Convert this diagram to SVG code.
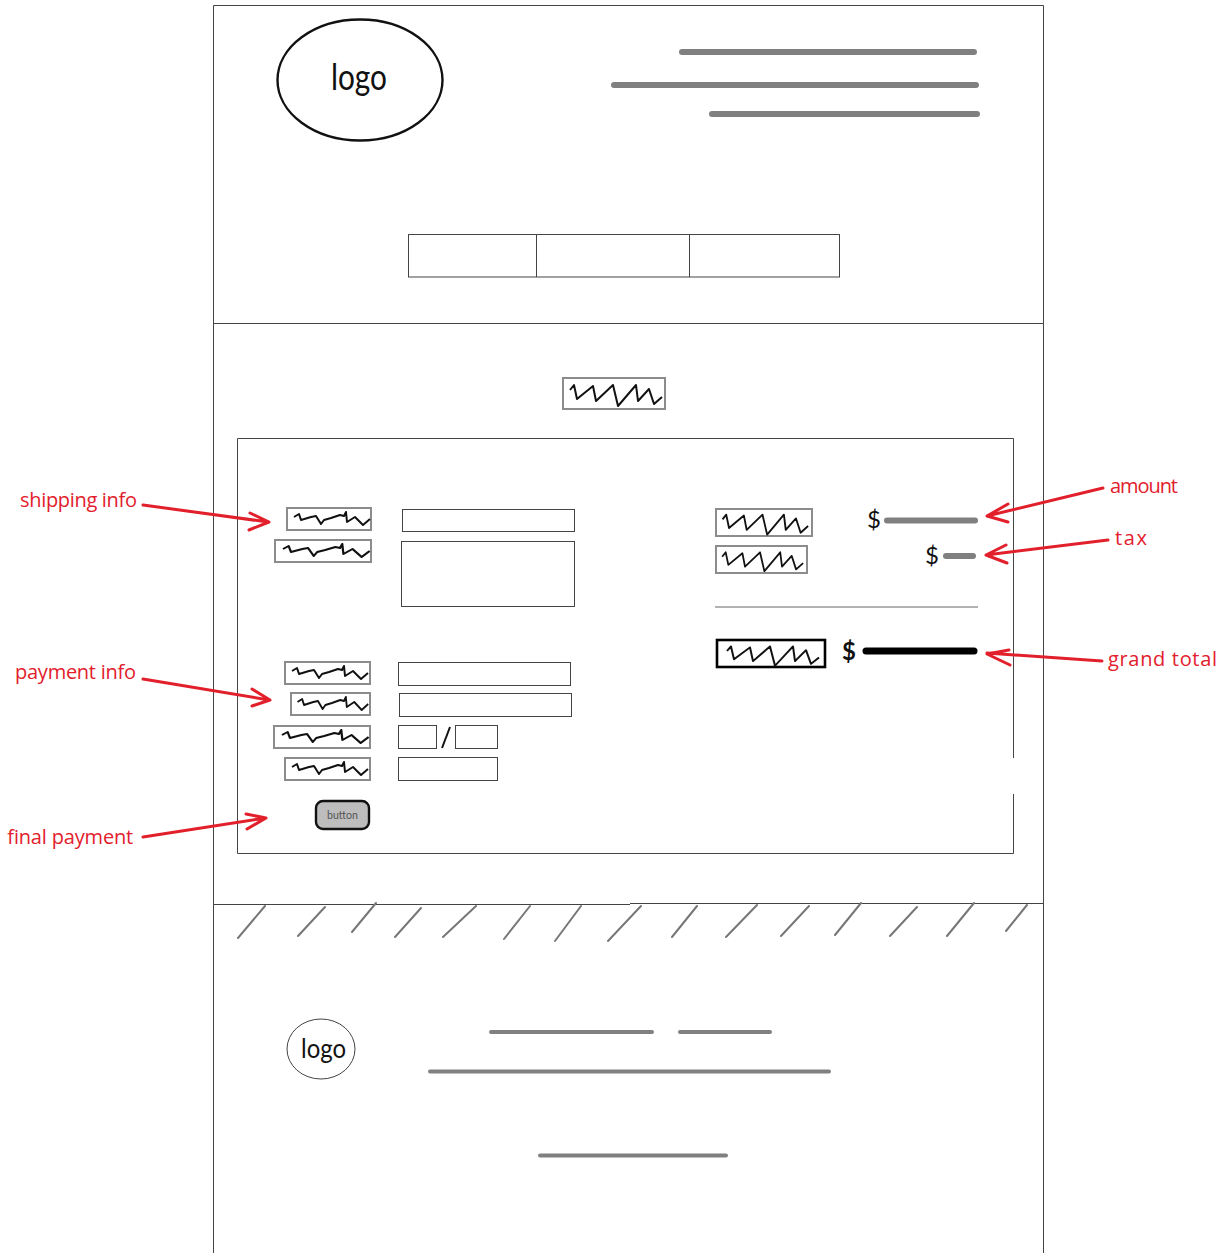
<svg xmlns="http://www.w3.org/2000/svg" width="1229" height="1253" viewBox="0 0 1229 1253">
<style>
.line{fill:none;stroke:#444;stroke-width:1}
.fld{fill:#fff;stroke:#444;stroke-width:1}
.lab{fill:#fff;stroke:#8c8c8c;stroke-width:2}
.bar{fill:none;stroke:#808080;stroke-linecap:round;stroke-width:6}
.thin{fill:none;stroke:#808080;stroke-linecap:round;stroke-width:4}
.hatch{fill:none;stroke:#777;stroke-linecap:round;stroke-width:2}
.sq{fill:none;stroke:#111;stroke-width:2;stroke-linejoin:round}
.arr{fill:none;stroke:#e2202c;stroke-width:3;stroke-linecap:round;stroke-linejoin:round}
.note{font-family:"Open Sans","DejaVu Sans",sans-serif;font-size:20px;fill:#e2202c}
.txt{font-family:Lato,"Open Sans",sans-serif;fill:#111}
</style>
<defs>
<path id="s1" d="M7 9L12 6L14 12L24 9L29 8L34 16L37 12L44 10L53 7L57 8L59 4L60 14L68 9L76 17L83 11"/>
<path id="s2" d="M7 12L11 7L14 21L30 8L33 23L50 7L55 28L73 7L75 23L86 11L91 26L99 19"/>
</defs>
<rect width="1229" height="1253" fill="#fff"/>
<g id="page">
<path class="line" d="M213.500 1253V5.500H1043.500V1253M213 323.500H1043M213 904.500H630M630 903.500H1043"/>
</g>
<g id="logo-top">
<ellipse cx="360" cy="80" rx="82.500" ry="60.500" fill="#fff" stroke="#111" stroke-width="2.400"/>
<text class="txt" x="331" y="90" font-size="36" textLength="56" lengthAdjust="spacingAndGlyphs">logo</text>
</g>
<g id="header-lines">
<path class="bar" d="M682 52H974M614 85H976M712 114H977"/>
</g>
<g id="nav-table">
<rect class="fld" x="408.500" y="234.500" width="431" height="42.500"/>
<path class="line" d="M536.500 235V277M689.500 235V277"/>
</g>
<g id="title">
<rect class="lab" x="563" y="378" width="102" height="31"/>
<use href="#s2" class="sq" x="563" y="378"/>
</g>
<g id="form-box">
<path class="line" d="M1013.500 758V438.500H237.500V853.500H1013.500V794"/>
</g>
<g id="shipping">
<rect class="lab" x="287" y="508" width="84" height="22"/><use href="#s1" class="sq" x="287" y="508"/>
<rect class="lab" x="275" y="540" width="96" height="22"/><use href="#s1" class="sq" transform="translate(275 540) scale(1.14 1)"/>
<rect class="fld" x="402.500" y="509.500" width="172" height="22"/>
<rect class="fld" x="401.500" y="541.500" width="173" height="65"/>
</g>
<g id="payment">
<rect class="lab" x="285" y="662" width="85" height="22"/><use href="#s1" class="sq" x="285" y="662"/>
<rect class="lab" x="291" y="693" width="79" height="22"/><use href="#s1" class="sq" transform="translate(291 693) scale(.93 1)"/>
<rect class="lab" x="274" y="726" width="96" height="22"/><use href="#s1" class="sq" transform="translate(274 726) scale(1.14 1)"/>
<rect class="lab" x="285" y="758" width="85" height="22"/><use href="#s1" class="sq" x="285" y="758"/>
<rect class="fld" x="398.500" y="662.500" width="172" height="23"/>
<rect class="fld" x="399.500" y="693.500" width="172" height="23"/>
<rect class="fld" x="398.500" y="725.500" width="38" height="23"/>
<path d="M442 748L450 727" fill="none" stroke="#111" stroke-width="2"/>
<rect class="fld" x="455.500" y="725.500" width="42" height="23"/>
<rect class="fld" x="398.500" y="757.500" width="99" height="23"/>
</g>
<g id="button">
<rect x="316" y="801" width="53" height="28" rx="7" fill="#bdbdbd" stroke="#111" stroke-width="2.400"/>
<text x="327" y="819" font-family="Lato,sans-serif" font-size="11" fill="#555" textLength="31" lengthAdjust="spacingAndGlyphs">button</text>
</g>
<g id="amounts">
<rect class="lab" x="716" y="509" width="96" height="27"/><use href="#s2" class="sq" transform="translate(716 508) scale(.93 .95)"/>
<rect class="lab" x="716" y="546" width="91" height="27"/><use href="#s2" class="sq" transform="translate(716 546) scale(.88 .9)"/>
<text class="txt" x="874" y="528" font-size="24" text-anchor="middle">$</text>
<path class="bar" d="M887 520.500H975"/>
<text class="txt" x="932" y="564" font-size="24" text-anchor="middle">$</text>
<path class="bar" d="M946 556H973"/>
<path d="M715 607H978" fill="none" stroke="#666" stroke-width="1"/>
<rect x="717" y="640" width="108" height="27" fill="#fff" stroke="#000" stroke-width="2.600"/><use href="#s2" class="sq" transform="translate(720 640) scale(1 .92)"/>
<text class="txt" x="849" y="660" font-size="24" font-weight="700" text-anchor="middle">$</text>
<path d="M866 651H974" fill="none" stroke="#000" stroke-width="7" stroke-linecap="round"/>
</g>
<g id="footer-hatch">
<path class="hatch" d="M265 906L238 938M325 907L298 936M376 903L352 932M421 908L395 937M476 906L443 937M530 906L504 939M581 906L555 941M641 906L608 941M697 906L672 937M757 905L726 937M809 906L781 936M861 903L835 935M917 907L890 936M974 903L947 936M1027 905L1006 931"/>
</g>
<g id="logo-bottom">
<ellipse cx="321" cy="1049" rx="34" ry="30" fill="#fff" stroke="#444" stroke-width="1"/>
<text class="txt" x="301" y="1058" font-size="27" textLength="45" lengthAdjust="spacingAndGlyphs">logo</text>
</g>
<g id="footer-lines">
<path class="thin" d="M491 1032H652M680 1032H770M430 1071.500H829M540 1155.500H726"/>
</g>
<g id="connectors">
<path class="arr" d="M143 505L268 522M250 513L269 522L249 530"/>
<path class="arr" d="M143 679L269 700M252 689L270 700L252 706"/>
<path class="arr" d="M143 837L266 818M246 814L266 818L247 829"/>
<path class="arr" d="M1103 488L987 516M1008 504L987 516L1008 522"/>
<path class="arr" d="M1108 540L986 555M1006 545L986 555L1007 563"/>
<path class="arr" d="M1102 661L987 653M1009 650L987 654L1010 665"/>
</g>
<g id="notes">
<text class="note" x="20" y="507" textLength="117">shipping info</text>
<text class="note" x="15" y="679" textLength="121">payment info</text>
<text class="note" x="7" y="844" textLength="126">final payment</text>
<text class="note" x="1110" y="493" textLength="68">amount</text>
<text class="note" x="1115" y="545" textLength="32">tax</text>
<text class="note" x="1108" y="666" textLength="109">grand total</text>
</g>
</svg>
